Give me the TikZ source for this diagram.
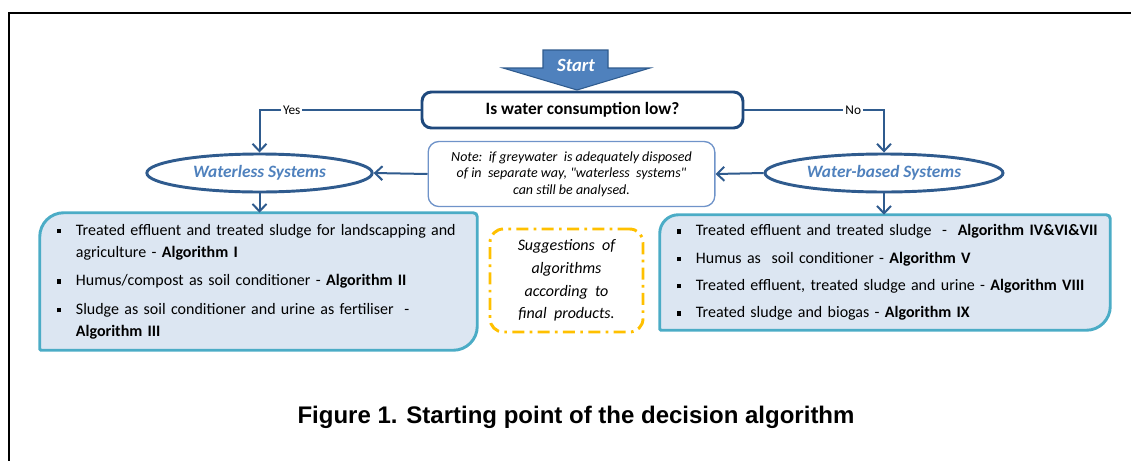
\documentclass[tikz,border=0pt]{standalone}
\usepackage{fontspec}
\setmainfont{Carlito}
\newfontfamily\captionfont{Liberation Sans}
\usepackage{xcolor}
\definecolor{colorNavy}{HTML}{1F497D}
\definecolor{colorLine}{HTML}{2F5B8E}
\definecolor{colorSystem}{HTML}{4F81BD}
\definecolor{colorFill}{HTML}{DCE6F2}
\definecolor{colorBorder}{HTML}{4BACC6}
\definecolor{colorNote}{HTML}{6F93C9}
\definecolor{colorDash}{HTML}{FFC000}
\usepackage{tikz}
\usetikzlibrary{arrows.meta, shapes.geometric, positioning, backgrounds}
\newcommand{\sqbul}{\rule[0.3ex]{3.2pt}{3.2pt}}
\newcommand{\dq}{{\addfontfeatures{Ligatures=TeXOff}"}}
\tikzset{conn/.style={draw=colorLine, line width=1.5pt, >={Straight Barb[length=5.5pt,width=10.5pt]}}}

\begin{document}
\begin{tikzpicture}[x=0.75pt, y=-0.75pt, system/.style={ellipse, draw=colorLine, line width=2.2pt, minimum height=28.5pt, inner sep=0pt, text=colorSystem, font=\fontsize{13}{15}\selectfont\bfseries\itshape}, product/.style={inner xsep=12.75pt, inner ysep=0pt, align=left, font=\fontsize{12}{16.5}\selectfont}, boxline/.style={draw=colorBorder, fill=colorFill, line width=2.2pt}, lbl/.style={fill=white, inner sep=1.5pt, text=black, font=\fontsize{10}{11}\selectfont}]
\useasboundingbox (0,0) rectangle (1131,461);
\draw[line width=1.5pt] (1131,12.5) -- (8.5,12.5) -- (8.5,461);
\draw[fill=colorSystem, draw=colorLine, line width=0.8pt] (543,50) -- (608,50) -- (608,68) -- (650,68) -- (577,90) -- (503,68) -- (543,68) -- cycle;
\node[text=white, font=\fontsize{14}{16}\selectfont\bfseries\itshape] (start) at (576,65) {Start};
\node[draw=colorNavy, line width=2.2pt, rounded corners=7pt, minimum width=240.75pt, minimum height=27pt, font=\fontsize{13}{15}\selectfont\bfseries] (quest) at (582.5,110) {Is water consumption low?};
\node[draw=colorNote, line width=1pt, rounded corners=8pt, minimum width=215pt, minimum height=48.75pt, inner sep=0pt, align=center, font=\fontsize{10.5}{12.4}\selectfont\itshape] (note) at (571.5,174) {Note:\ \ if greywater \ is adequately disposed\\ of in \ separate way, \dq waterless \ systems\dq\\ can still be analysed.};
\node[system, minimum width=169pt] (wless) at (259.5,173) {Waterless Systems};
\node[system, minimum width=178.5pt] (wbased) at (884,173) {Water-based Systems};
\node[product, text width=302.25pt, minimum height=102.75pt] (wlessbox) at (258.5,281.5) {\noindent\begin{tabular}{@{}l@{\hspace{11pt}}l@{}}
\sqbul & Treated effluent and treated sludge for landscapping and\\
 & agriculture - \textbf{Algorithm I}\\[5pt]
\sqbul & Humus/compost as soil conditioner - \textbf{Algorithm II}\\[5pt]
\sqbul & Sludge as soil conditioner and urine as fertiliser \ -\\
 & \textbf{Algorithm III}
\end{tabular}};
\node[product, text width=312pt, minimum height=86.25pt] (wbasedbox) at (885,272.5) {\noindent\begin{tabular}{@{}l@{\hspace{11pt}}l@{}}
\sqbul & Treated effluent and treated sludge \ - \ \textbf{Algorithm IV\&VI\&VII}\\[4pt]
\sqbul & Humus as \ soil conditioner - \textbf{Algorithm V}\\[4pt]
\sqbul & Treated effluent, treated sludge and urine - \textbf{Algorithm VIII}\\[4pt]
\sqbul & Treated sludge and biogas - \textbf{Algorithm IX}
\end{tabular}};
\node[draw=colorDash, line width=2.2pt, dash pattern=on 9pt off 4pt on 2pt off 4pt, rounded corners=10pt, minimum width=114.75pt, minimum height=77.25pt, inner sep=0pt, align=center, font=\fontsize{12}{17}\selectfont\itshape] (hint) at (566.5,280.5) {Suggestions \ of\\ algorithms\\ according \ to\\ final \ products.};
\node[anchor=base, font=\captionfont\bfseries\fontsize{18}{20}\selectfont] (caption) at (576,423) {Figure 1. Starting point of the decision algorithm};
\begin{pgfonlayer}{background}
\draw[boxline] ([yshift=-18pt]wlessbox.north west) arc[start angle=180, end angle=90, radius=18pt] -- ([xshift=-3pt]wlessbox.north east) arc[start angle=90, end angle=0, radius=3pt] -- ([yshift=18pt]wlessbox.south east) arc[start angle=0, end angle=-90, radius=18pt] -- ([xshift=1pt]wlessbox.south west) arc[start angle=270, end angle=180, radius=1pt] -- cycle;
\draw[boxline] ([yshift=-14pt]wbasedbox.north west) arc[start angle=180, end angle=90, radius=14pt] -- ([xshift=-3pt]wbasedbox.north east) arc[start angle=90, end angle=0, radius=3pt] -- ([yshift=18pt]wbasedbox.south east) arc[start angle=0, end angle=-90, radius=18pt] -- ([xshift=1pt]wbasedbox.south west) arc[start angle=270, end angle=180, radius=1pt] -- cycle;
\end{pgfonlayer}
\draw[conn, ->] (quest.west) -| node[lbl, pos=0.4] {Yes} (wless.north);
\draw[conn, ->] (quest.east) -| node[lbl, pos=0.39] {No} (wbased.north);
\draw[conn, ->] (note.west) -- (wless.east);
\draw[conn, ->] (wbased.west) -- (note.east);
\draw[conn, ->] (wless.south) -- (wless.south |- wlessbox.north);
\draw[conn, ->] (wbased.south) -- (wbased.south |- wbasedbox.north);
\end{tikzpicture}
\end{document}
